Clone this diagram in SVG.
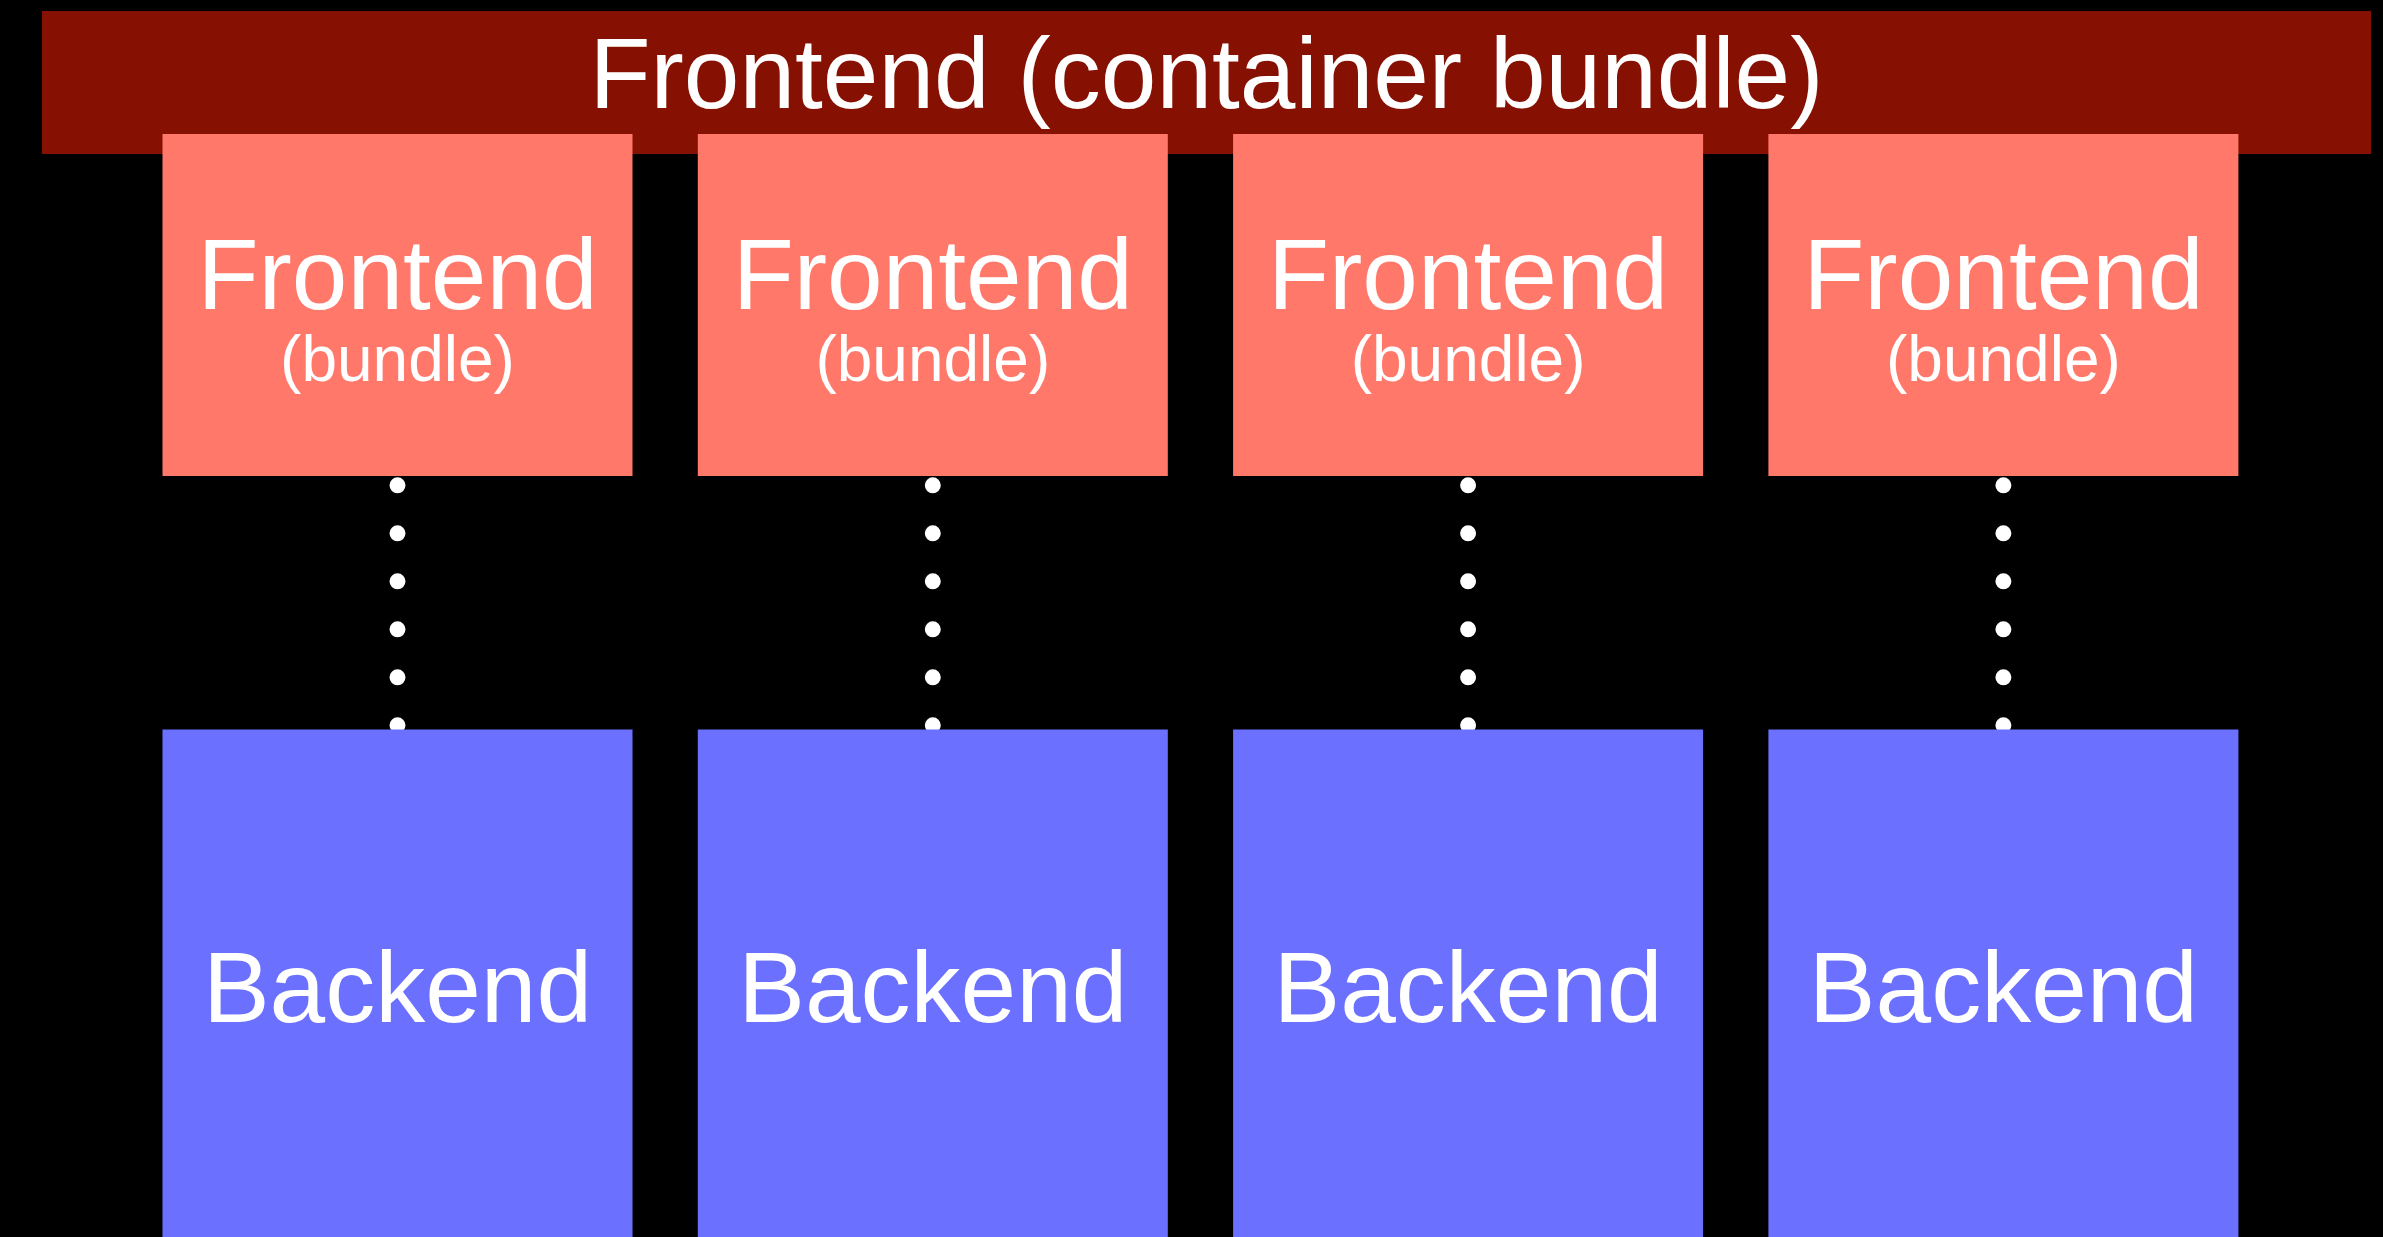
<svg xmlns="http://www.w3.org/2000/svg" width="2383" height="1237" viewBox="0 0 2383 1237">
<style>
.bg{fill:#000000}
.container{fill:#861102}
.fe{fill:#FF7869}
.be{fill:#6B70FF}
.t{font-family:"Liberation Sans",Arial,sans-serif;fill:#FFFFFF;text-anchor:middle}
.big{font-size:100px}
.small{font-size:64px}
.dots{stroke:#FFFFFF;stroke-width:16;stroke-linecap:round;stroke-dasharray:0 48;fill:none}
</style>
<rect class="bg" x="0" y="0" width="2383" height="1237"/>
<g id="container">
<rect class="container" x="42" y="11" width="2329" height="143"/>
<text class="t big" x="1206.5" y="108">Frontend (container bundle)</text>
</g>
<g id="frontend1">
<rect class="fe" x="162.5" y="134" width="470" height="342"/>
<text class="t big" x="397.5" y="309">Frontend</text>
<text class="t small" x="397.5" y="381">(bundle)</text>
</g>
<g id="frontend2">
<rect class="fe" x="697.8" y="134" width="470" height="342"/>
<text class="t big" x="932.8" y="309">Frontend</text>
<text class="t small" x="932.8" y="381">(bundle)</text>
</g>
<g id="frontend3">
<rect class="fe" x="1233.1" y="134" width="470" height="342"/>
<text class="t big" x="1468.1" y="309">Frontend</text>
<text class="t small" x="1468.1" y="381">(bundle)</text>
</g>
<g id="frontend4">
<rect class="fe" x="1768.4" y="134" width="470" height="342"/>
<text class="t big" x="2003.4" y="309">Frontend</text>
<text class="t small" x="2003.4" y="381">(bundle)</text>
</g>
<g id="connectors">
<path class="dots" d="M397.5 485.3V726"/>
<path class="dots" d="M932.8 485.3V726"/>
<path class="dots" d="M1468.1 485.3V726"/>
<path class="dots" d="M2003.4 485.3V726"/>
</g>
<g id="backend1">
<rect class="be" x="162.5" y="729.5" width="470" height="507.5"/>
<text class="t big" x="397.5" y="1022">Backend</text>
</g>
<g id="backend2">
<rect class="be" x="697.8" y="729.5" width="470" height="507.5"/>
<text class="t big" x="932.8" y="1022">Backend</text>
</g>
<g id="backend3">
<rect class="be" x="1233.1" y="729.5" width="470" height="507.5"/>
<text class="t big" x="1468.1" y="1022">Backend</text>
</g>
<g id="backend4">
<rect class="be" x="1768.4" y="729.5" width="470" height="507.5"/>
<text class="t big" x="2003.4" y="1022">Backend</text>
</g>
</svg>
